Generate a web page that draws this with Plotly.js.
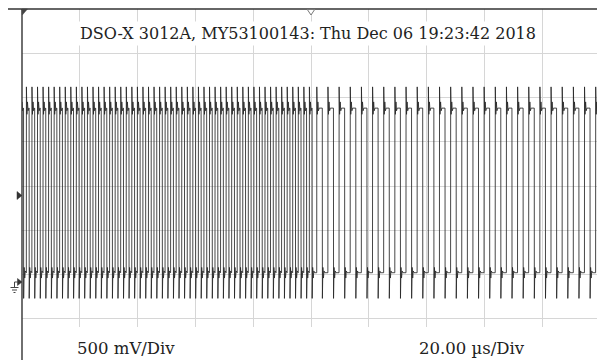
<!DOCTYPE html>
<html>
<head>
<meta charset="utf-8">
<script src="https://cdn.plot.ly/plotly-3.0.1.min.js"></script>
<style>
html,body{margin:0;padding:0;background:#fff;overflow:hidden;}
#chart{width:600px;height:365px;}
</style>
</head>
<body>
<div id="chart"></div>
<script>
// ---- data ----
const timeRangeUs = [-100, 100];          // 20 µs/div, 10 divisions
const voltRangeV = [-0.93, 3.07];         // 500 mV/div, 8 divisions, ground at 0 V
const gridCenterV = [1.07];               // centre graticule line
const segmentEndUs = [0, 100];            // frequency switches at the trigger
const periodUs = [1.92, 3.86];            // pulse period before / after the switch
const firstRiseUs = [-100.42, 1.98];      // first rising edge of each segment
const dutyCycle = [0.5, 0.5];
const riseShapeDtUs = [0, 0.03, 0.2, 0.4, 0.6, 0.85];
const riseShapeV    = [0.09, 2.19, 1.88, 2.02, 1.92, 1.95];
const fallShapeDtUs = [0, 0.03, 0.2, 0.4, 0.6, 0.85];
const fallShapeV    = [1.95, -0.2, 0.15, 0.03, 0.11, 0.09];
const titleText = "DSO-X 3012A, MY53100143: Thu Dec 06 19:23:42 2018";
const vScaleText = "500 mV/Div";
const tScaleText = "20.00 µs/Div";

// ---- build trace from the edge list ----
const tx = [], vy = [];
for (let s = 0; s < periodUs.length; s++) {
  for (let t = firstRiseUs[s]; t < segmentEndUs[s]; t += periodUs[s]) {
    for (let i = 0; i < riseShapeDtUs.length; i++) { tx.push(t + riseShapeDtUs[i]); vy.push(riseShapeV[i]); }
    const tf = t + periodUs[s] * dutyCycle[s];
    for (let i = 0; i < fallShapeDtUs.length; i++) { tx.push(tf + fallShapeDtUs[i]); vy.push(fallShapeV[i]); }
  }
}

// pixel -> paper helpers for decorations
const L = 22, R = 600, T = 9, B = 363;
const px = x => (x - L) / (R - L);
const py = y => (B - y) / (B - T);

const gridCol = '#d6d6d6', centerCol = '#b8b8b8', dark = '#333';

const trace = {
  x: tx, y: vy, type: 'scatter', mode: 'lines',
  line: {color: '#262626', width: 0.85}, hoverinfo: 'skip', showlegend: false
};

const shapes = [
  {type:'rect', xref:'paper', yref:'paper', x0:0, x1:1.02, y0:-0.05, y1:py(327), fillcolor:'#fff', line:{width:0}, layer:'above'},
  {type:'line', xref:'paper', yref:'paper', x0:0, x1:0, y0:1, y1:-0.05, line:{color:dark, width:1.4}, layer:'above'},
  {type:'line', xref:'paper', yref:'paper', x0:px(8), x1:1.02, y0:1, y1:1, line:{color:dark, width:1.4}, layer:'above'},
  {type:'path', xref:'paper', yref:'paper', path:`M ${px(22)} ${py(9)} L ${px(27.5)} ${py(9)} L ${px(22.3)} ${py(15)} Z`, fillcolor:'#444', line:{color:'#444', width:0.5}, layer:'above'},
  {type:'path', xref:'paper', yref:'paper', path:`M ${px(307.3)} ${py(9.5)} L ${px(314.7)} ${py(9.5)} L ${px(311)} ${py(15)} Z`, fillcolor:'#fff', line:{color:'#777', width:1}, layer:'above'},
  {type:'path', xref:'paper', yref:'paper', path:`M ${px(17)} ${py(191.5)} L ${px(22)} ${py(195.5)} L ${px(17)} ${py(199.5)} Z`, fillcolor:'#333', line:{color:'#333', width:0.5}, layer:'above'},
  {type:'path', xref:'paper', yref:'paper', path:`M ${px(17.5)} ${py(278.5)} L ${px(22)} ${py(282)} L ${px(17.5)} ${py(285.5)} Z`, fillcolor:'#333', line:{color:'#333', width:0.5}, layer:'above'},
  {type:'line', xref:'paper', yref:'paper', x0:px(14.5), x1:px(18), y0:py(282), y1:py(282), line:{color:'#444', width:1}, layer:'above'},
  {type:'line', xref:'paper', yref:'paper', x0:px(14.5), x1:px(14.5), y0:py(282), y1:py(287.5), line:{color:'#444', width:1}, layer:'above'},
  {type:'line', xref:'paper', yref:'paper', x0:px(10.5), x1:px(18.5), y0:py(287.5), y1:py(287.5), line:{color:'#444', width:1}, layer:'above'},
  {type:'line', xref:'paper', yref:'paper', x0:px(12), x1:px(17), y0:py(290), y1:py(290), line:{color:'#444', width:1}, layer:'above'},
  {type:'line', xref:'paper', yref:'paper', x0:px(13.5), x1:px(15.5), y0:py(292.5), y1:py(292.5), line:{color:'#444', width:1}, layer:'above'}
];

const font = {family:'DejaVu Serif', size:16, color:'#222'};
const font2 = {family:'DejaVu Serif', size:16.5, color:'#222'};
const annotations = [
  {xref:'paper', yref:'paper', x:px(307.5), y:py(33), xanchor:'center', yanchor:'middle', text:titleText, showarrow:false, font:font, bgcolor:'#fff', borderpad:2},
  {xref:'paper', yref:'paper', x:px(75), y:py(348), xanchor:'left', yanchor:'middle', text:vScaleText, showarrow:false, font:font2},
  {xref:'paper', yref:'paper', x:px(417), y:py(348), xanchor:'left', yanchor:'middle', text:tScaleText, showarrow:false, font:font2}
];

const hiddenAxis = {showticklabels:false, showgrid:false, zeroline:false};
const layout = {
  width: 600, height: 365,
  margin: {l: L, r: 0, t: T, b: 365 - B, pad: 0, autoexpand: false},
  paper_bgcolor: '#fff', plot_bgcolor: '#fff',
  showlegend: false,
  xaxis: {range: timeRangeUs, tickmode:'linear', tick0:0, dtick:20, showgrid:true, gridcolor:gridCol, gridwidth:1,
          zeroline:false, showticklabels:false, ticks:'', showline:false, fixedrange:true},
  yaxis: {range: voltRangeV, tickmode:'linear', tick0:gridCenterV[0], dtick:0.5, showgrid:true, gridcolor:gridCol, gridwidth:1,
          zeroline:false, showticklabels:false, ticks:'', showline:false, fixedrange:true},
  xaxis2: Object.assign({overlaying:'x', anchor:'free', position:0.5, range:timeRangeUs, tickmode:'linear', tick0:0, dtick:5,
          ticks:'inside', ticklen:2, tickcolor:centerCol, showline:true, linecolor:centerCol, linewidth:1}, hiddenAxis),
  xaxis3: Object.assign({overlaying:'x', anchor:'free', position:0.5, range:timeRangeUs, tickmode:'linear', tick0:0, dtick:5,
          ticks:'outside', ticklen:2, tickcolor:centerCol, showline:false}, hiddenAxis),
  yaxis2: Object.assign({overlaying:'y', anchor:'free', position:0.5, range:voltRangeV, tickmode:'linear', tick0:gridCenterV[0], dtick:0.1,
          ticks:'inside', ticklen:2, tickcolor:centerCol, showline:true, linecolor:centerCol, linewidth:1}, hiddenAxis),
  yaxis3: Object.assign({overlaying:'y', anchor:'free', position:0.5, range:voltRangeV, tickmode:'linear', tick0:gridCenterV[0], dtick:0.1,
          ticks:'outside', ticklen:2, tickcolor:centerCol, showline:false}, hiddenAxis),
  shapes: shapes,
  annotations: annotations
};

Plotly.newPlot('chart', [trace], layout, {staticPlot:true, displayModeBar:false});
</script>
</body>
</html>
